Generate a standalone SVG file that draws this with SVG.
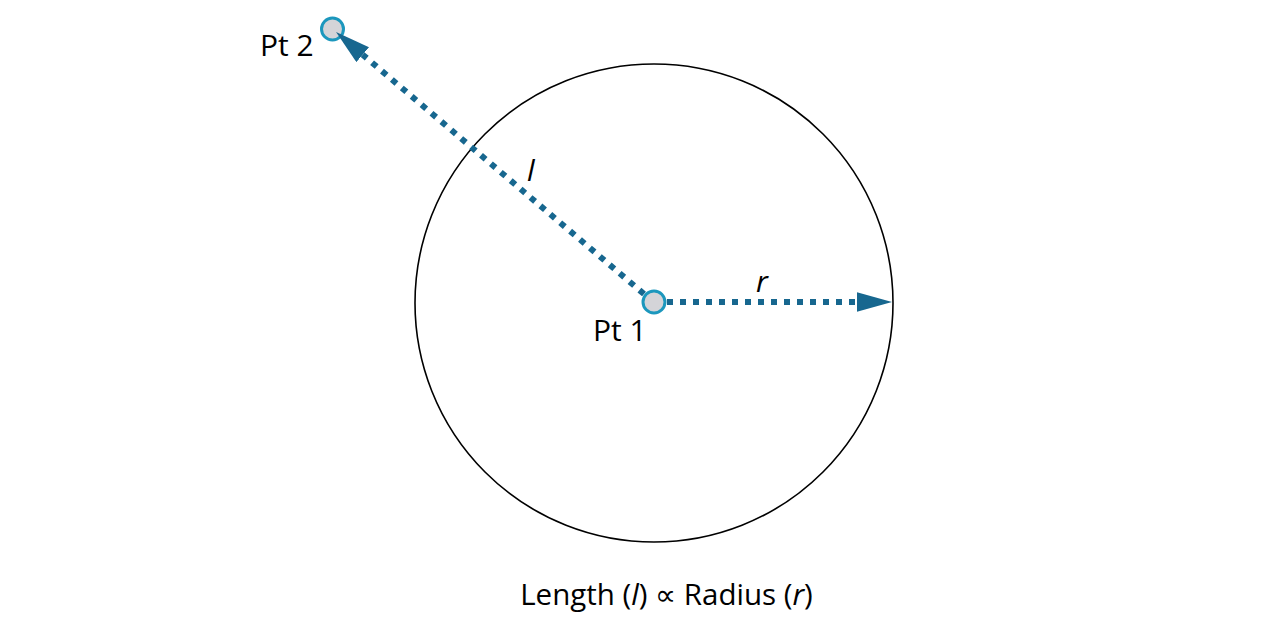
<svg xmlns="http://www.w3.org/2000/svg" width="1280" height="640" viewBox="0 0 1280 640">
<style>
  .lbl { font-family: "Open Sans", "Noto Sans", "DejaVu Sans", sans-serif; fill: #000; }
  .it { font-style: italic; }
  .pt { fill: #d4d4d8; stroke: #1c97bd; stroke-width: 3; }
  .conn { stroke: #17678f; stroke-width: 6; stroke-dasharray: 6 7; fill: none; }
</style>
<defs>
  <marker id="arrow" markerUnits="userSpaceOnUse" markerWidth="36" markerHeight="20" refX="0" refY="9.75" orient="auto">
    <path d="M0,0 L35,9.75 L0,19.5 z" fill="#17678f"/>
  </marker>
</defs>
<rect width="1280" height="640" fill="#fff"/>
<g id="boundary">
  <circle cx="654" cy="303" r="239" fill="none" stroke="#000" stroke-width="1.6"/>
</g>
<g id="pt2">
  <circle class="pt" cx="332.5" cy="29" r="11"/>
  <text class="lbl" x="260" y="56" font-size="30">Pt 2</text>
</g>
<g id="connectors">
  <line class="conn" x1="644" y1="294" x2="362.7" y2="54.7" marker-end="url(#arrow)"/>
  <line class="conn" x1="667" y1="302" x2="857" y2="302" marker-end="url(#arrow)"/>
  <text class="lbl it" x="527" y="181" font-size="30">l</text>
  <text class="lbl it" x="756" y="292" font-size="30">r</text>
</g>
<g id="pt1">
  <circle class="pt" cx="654" cy="302" r="11"/>
  <text class="lbl" x="593" y="341" font-size="30">Pt 1</text>
</g>
<g id="caption">
  <text class="lbl" x="666.5" y="605" font-size="29.5" text-anchor="middle">Length (<tspan class="it">l</tspan>) ∝ Radius (<tspan class="it">r</tspan>)</text>
</g>
</svg>
